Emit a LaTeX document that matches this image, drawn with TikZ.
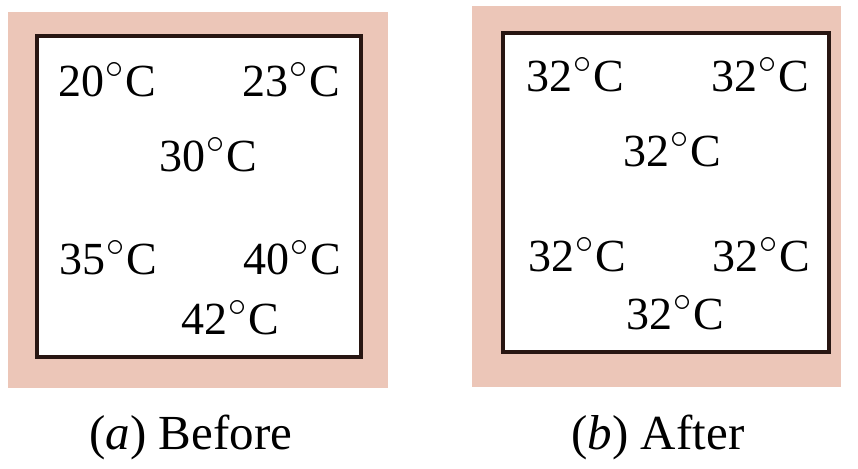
\documentclass[tikz,border=0pt]{standalone}
\usepackage{fontspec}
\usepackage{graphicx}
\setmainfont{Liberation Serif}
\definecolor{pinkbg}{RGB}{236,198,184}
\definecolor{rim}{RGB}{40,22,18}
\newcommand{\degc}{\kern0.04em\raisebox{0.40em}{\scalebox{1.45}{$\circ$}}\kern0.03em C}
\begin{document}
\begin{tikzpicture}[x=1pt,y=-1pt,
  temp/.style={font=\fontsize{46}{50}\selectfont, inner sep=0pt, anchor=center},
  captext/.style={font=\fontsize{49}{54}\selectfont, inner sep=0pt, anchor=center},
  pad/.style={fill=pinkbg, draw=none},
  box/.style={fill=white, draw=rim, line width=3.5pt}]
\useasboundingbox (0,0) rectangle (858,468);
\fill[white] (0,0) rectangle (858,468);
% left panel
\path[pad] (8,12) rectangle (388,388);
\path[box] (37,36) rectangle (361,357);
\node[temp] (l1) at (107,80) {20\degc};
\node[temp] (l2) at (291,80) {23\degc};
\node[temp] (l3) at (208,155) {30\degc};
\node[temp] (l4) at (108,258) {35\degc};
\node[temp] (l5) at (292,258) {40\degc};
\node[temp] (l6) at (230,318) {42\degc};
% right panel
\path[pad] (472,6) rectangle (841,387);
\path[box] (503,33) rectangle (829,352);
\node[temp] (r1) at (575,75) {32\degc};
\node[temp] (r2) at (760,75) {32\degc};
\node[temp] (r3) at (672,150) {32\degc};
\node[temp] (r4) at (577,255) {32\degc};
\node[temp] (r5) at (761,255) {32\degc};
\node[temp] (r6) at (675,313) {32\degc};
% captions
\node[captext] (ca) at (191,437) {(\textit{a}) Before};
\node[captext] (cb) at (658,437) {(\textit{b}) After};
\end{tikzpicture}
\end{document}
